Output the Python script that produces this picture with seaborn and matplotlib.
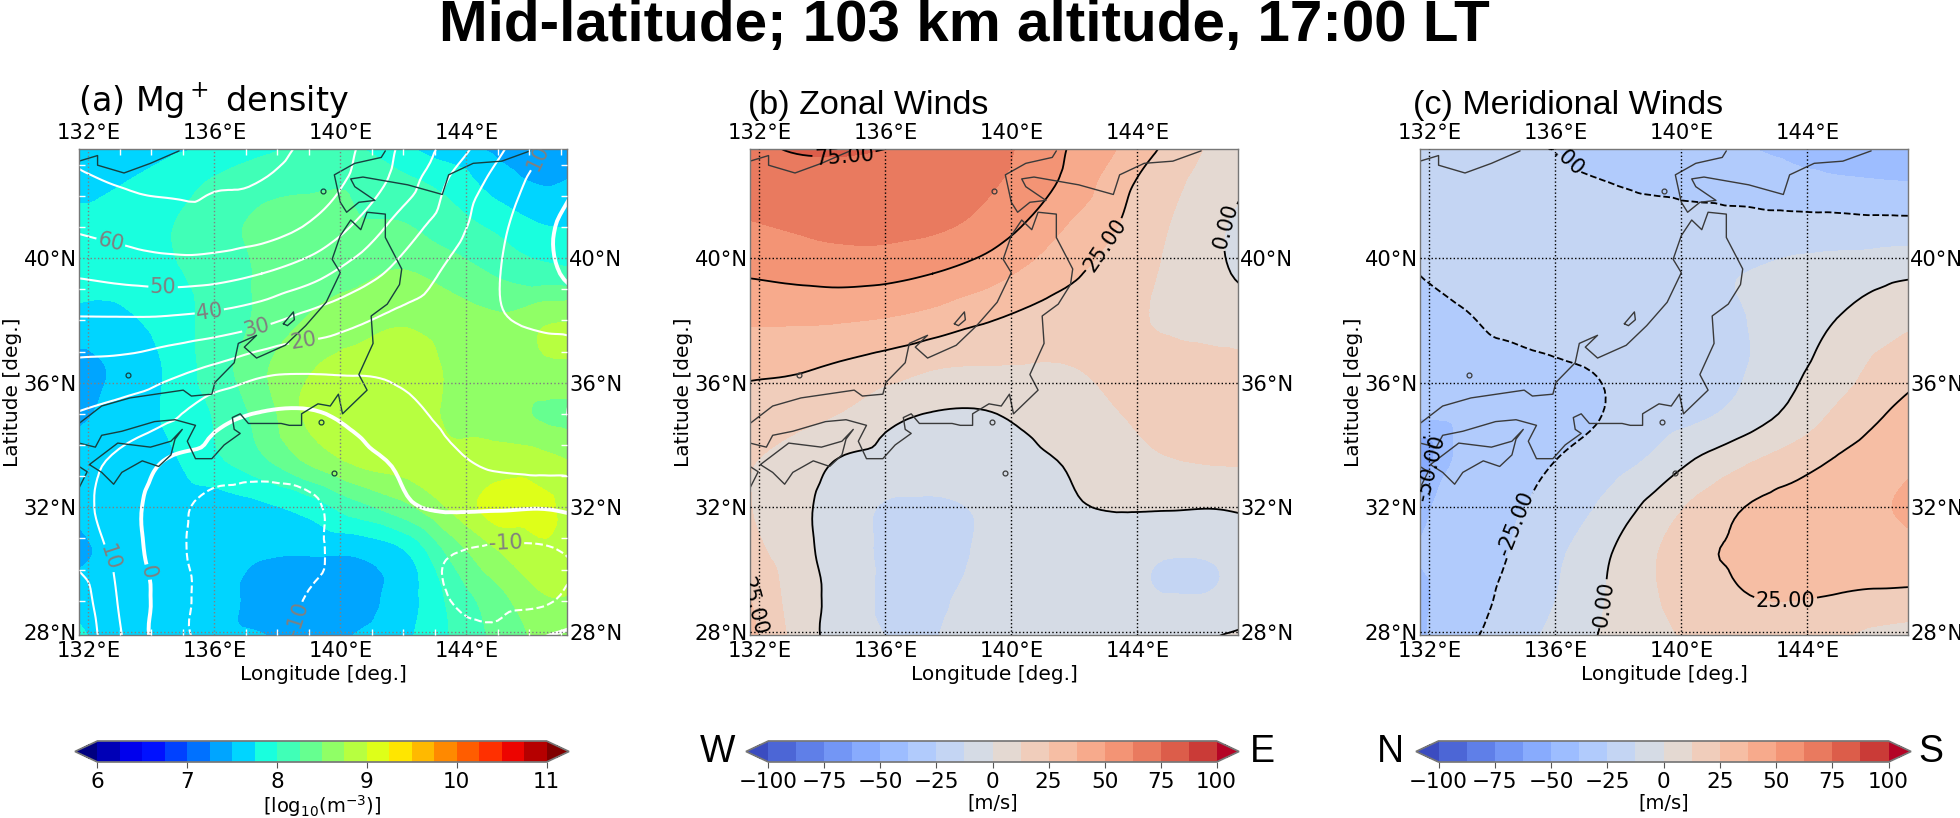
import matplotlib
matplotlib.use('Agg')
import matplotlib.pyplot as plt
import matplotlib.tri as mtri
from matplotlib.colors import ListedColormap, BoundaryNorm
import numpy as np
import seaborn as sns

# grid the fields were read on (rows go from north to south)
lons = [131.5, 133, 134.5, 136, 137.5, 139, 140.5, 142, 143.5, 145, 146.5, 147.5]
lats = [43.5, 42.5, 41, 39.5, 38, 36.5, 35, 33.5, 32, 30.5, 29, 27.5]

mg_density = [
    [7.55, 7.60, 7.70, 7.78, 7.95, 8.05, 8.02, 7.80, 7.60, 7.45, 7.40, 7.45],
    [7.65, 7.73, 7.85, 8.02, 8.15, 8.20, 8.20, 8.05, 7.90, 7.60, 7.47, 7.52],
    [7.82, 7.85, 7.98, 8.15, 8.30, 8.33, 8.28, 8.27, 8.10, 7.95, 7.76, 7.74],
    [7.82, 7.82, 7.95, 8.10, 8.28, 8.38, 8.45, 8.52, 8.40, 8.22, 8.10, 8.05],
    [7.68, 7.70, 7.85, 8.10, 8.30, 8.52, 8.62, 8.72, 8.62, 8.55, 8.72, 8.74],
    [7.40, 7.55, 7.78, 8.12, 8.45, 8.72, 8.85, 8.90, 8.72, 8.70, 8.72, 8.72],
    [7.42, 7.60, 7.78, 8.02, 8.35, 8.80, 8.92, 8.88, 8.72, 8.62, 8.46, 8.42],
    [7.62, 7.65, 7.70, 7.95, 8.20, 8.55, 8.80, 8.85, 8.78, 8.85, 8.82, 8.72],
    [7.55, 7.60, 7.60, 7.62, 7.70, 7.85, 8.15, 8.42, 8.78, 9.12, 9.05, 8.85],
    [7.40, 7.60, 7.62, 7.60, 7.52, 7.51, 7.52, 7.70, 8.30, 8.72, 8.95, 8.85],
    [7.70, 7.65, 7.60, 7.60, 7.42, 7.35, 7.42, 7.62, 8.05, 8.40, 8.72, 8.72],
    [7.85, 7.65, 7.60, 7.58, 7.55, 7.45, 7.55, 7.70, 8.00, 8.30, 8.55, 8.60],
]

zonal_wind = [
    [72, 75.5, 76, 75, 73, 68, 60, 48, 36, 22, 9, -3],
    [68, 71, 72, 71, 70, 65.5, 58, 45.5, 29, 17, 5.5, 0],
    [61, 63.5, 66, 66.5, 64.5, 59, 48.5, 35, 24, 12.5, 2, -4],
    [51, 53, 54.5, 53.5, 50, 44, 35, 26.5, 18, 10.5, 2.5, -3],
    [39, 39, 38.5, 36.5, 32.5, 26.5, 21.5, 17, 14.5, 11, 8, 7],
    [28, 27, 23.5, 19, 13.5, 12, 11.8, 12.5, 15, 16, 15.5, 15],
    [20, 17, 12.5, 3.5, -0.5, -1, 2.5, 7, 12.5, 15, 18, 21],
    [14, 8, -0.5, -4, -6.5, -6, -2.5, 1.5, 8, 12, 13.5, 14],
    [14, 5, -5.5, -13.5, -14, -11.5, -5.5, -1, 1, 1, 0.5, 2],
    [18, 7, -6, -14, -16, -11.5, -7.5, -6, -9.8, -12, -11.5, -9],
    [28, 9, -4, -14, -14, -9.5, -7.5, -7, -10, -12, -11, -7],
    [32, 11.5, -5, -12, -12.5, -8, -6, -5, -7, -7, 3, 7],
]

meridional_wind = [
    [-20, -21, -23, -25, -28, -31, -34, -37, -39, -40.5, -41, -41],
    [-19, -20, -21, -23, -25, -28.5, -31, -33, -35, -36.5, -37.5, -38],
    [-22, -18, -15, -13.5, -15, -16.5, -18, -19, -20, -20, -20.5, -20.5],
    [-25.5, -20, -16.5, -13.5, -15, -15, -14, -12.5, -9, -6.5, -3, -1.5],
    [-32, -27, -21, -18, -17, -16, -15, -12.8, -6.5, 0.5, 6.5, 11],
    [-33, -32, -30, -26.5, -24, -20, -17, -13, -3, 6, 17, 21],
    [-36, -34, -33, -31, -25, -20, -15, -8, 3, 15, 25, 31],
    [-62, -34, -29.5, -25, -19.5, -11, 1, 10.5, 18, 26.5, 33, 36.5],
    [-42, -32, -27, -21, -10.5, 3, 15.5, 25, 30.5, 33.5, 37, 40],
    [-38, -32, -25, -15, -2.5, 10.5, 22, 27.5, 29.5, 30.5, 32.5, 34],
    [-41, -31.5, -22, -12.5, -0.5, 10.5, 18, 24, 25, 23.5, 21.5, 20.5],
    [-42, -28, -18, -8, 1.5, 8, 13.5, 17, 16, 11, 3, -1],
]

# coastlines, lon / lat
coast_honshu = [
    (131.70, 34.69), (132.42, 35.25), (133.32, 35.51), (135.01, 35.76), (135.27, 35.57),
    (135.92, 35.63), (136.02, 36.01), (136.63, 36.64), (136.76, 37.26), (137.34, 37.52),
    (136.95, 37.14), (137.34, 36.79), (138.25, 37.20), (138.90, 37.83), (139.55, 38.58),
    (140.00, 39.53), (139.74, 39.96), (140.00, 40.72), (140.33, 41.22), (140.65, 40.91),
    (140.85, 41.47), (141.43, 41.41), (141.43, 40.66), (141.95, 39.65), (141.88, 39.15),
    (141.49, 38.52), (140.98, 38.14), (141.04, 37.26), (140.59, 36.26), (140.85, 35.76),
    (140.07, 35.00), (139.94, 35.63), (139.68, 35.25), (139.29, 35.32), (138.77, 35.00),
    (138.77, 34.63), (138.38, 34.63), (138.12, 34.69), (137.08, 34.69), (136.82, 35.00),
    (136.57, 34.88), (136.63, 34.50), (136.82, 34.37), (136.31, 34.00), (135.92, 33.56),
    (135.40, 33.56), (135.14, 34.12), (135.40, 34.63), (134.75, 34.81), (134.10, 34.75),
    (133.06, 34.44), (132.42, 34.31), (132.22, 33.93), (131.70, 34.06),
]
coast_shikoku = [
    (132.03, 33.37), (132.93, 34.06), (133.97, 33.93), (134.62, 34.12), (134.98, 34.50),
    (134.75, 34.19), (134.62, 33.68), (134.23, 33.31), (133.71, 33.49), (133.06, 33.12),
    (132.80, 32.74), (132.42, 33.12), (132.03, 33.37),
]
coast_kyushu = [(131.70, 33.31), (131.96, 33.14), (131.70, 32.62)]
coast_hokkaido = [
    (141.43, 43.44), (141.30, 43.23), (140.46, 43.04), (139.81, 42.67), (140.00, 41.79),
    (140.20, 41.47), (140.59, 41.79), (141.10, 41.85), (140.46, 42.29), (140.33, 42.54),
    (140.72, 42.60), (142.14, 42.35), (143.24, 42.04), (143.44, 42.67), (144.22, 43.04),
    (145.13, 43.11), (146.03, 43.44),
]
coast_north = [
    (131.70, 43.11), (132.29, 43.29), (132.29, 42.98), (133.13, 42.73), (133.97, 43.04),
    (134.88, 43.44),
]
coast_sado = [(138.19, 37.89), (138.51, 38.27), (138.54, 38.02), (138.32, 37.83), (138.19, 37.89)]
coasts = [coast_honshu, coast_shikoku, coast_kyushu, coast_hokkaido, coast_north, coast_sado]
small_islands = [(133.26, 36.26), (139.44, 42.16), (139.39, 34.75), (139.80, 33.10)]

lon_ticks = [132, 136, 140, 144]
lat_ticks = [28, 32, 36, 40]
jet_levels = np.arange(6, 11.01, 0.25)
wind_levels = np.arange(-100, 100.1, 12.5)
wind_lines = [-100, -75, -50, -25, 0, 25, 50, 75, 100]
white_lines = [-20, -10, 0, 10, 20, 30, 40, 50, 60, 70]

labels_a = [(132.68, 40.39), (134.37, 38.94), (135.86, 38.14), (137.35, 37.71), (138.87, 37.14),
            (132.87, 30.46), (133.85, 29.91), (145.25, 30.9), (138.2, 28.5), (146.34, 43.2)]
labels_b = [(134.7, 43.2), (143.0, 40.4), (146.37, 41.16), (131.87, 28.85)]
labels_c = [(135.66, 43.29), (134.68, 31.48), (132.1, 33.24), (137.54, 28.9), (143.31, 28.9)]

sns.set_theme(style='white')
plt.rcParams['font.family'] = ['DejaVu Sans']

W, H = 1960, 818
fig = plt.figure(figsize=(W / 100, H / 100), dpi=100)


def px_axes(left, right, top, bottom):
    return fig.add_axes([left / W, 1 - bottom / H, (right - left) / W, (bottom - top) / H])


# cubic refine so the contours are smooth instead of following the coarse grid
lon2d, lat2d = np.meshgrid(lons, lats)
triang = mtri.Triangulation(lon2d.ravel(), lat2d.ravel())
refiner = mtri.UniformTriRefiner(triang)


def refined(values):
    z = np.array(values, dtype=float).ravel()
    interp = mtri.CubicTriInterpolator(triang, z, kind='geom')
    return refiner.refine_field(z, triinterpolator=interp, subdiv=3)


def make_cmap(palette, under, over):
    cmap = ListedColormap(palette)
    cmap.set_under(under)
    cmap.set_over(over)
    return cmap


jet_cmap = make_cmap(sns.mpl_palette('jet', 20), '#000080', '#800000')
wind_cmap = make_cmap(sns.color_palette('coolwarm', 16), '#3b4cc0', '#b40426')


def draw_map(ax, grid_color, coast_color):
    for line in coasts:
        xs, ys = zip(*line)
        ax.plot(xs, ys, color=coast_color, lw=1.0)
    xs, ys = zip(*small_islands)
    ax.plot(xs, ys, 'o', ms=3.5, mfc='none', mec=coast_color, mew=0.9)
    ax.set_xlim(131.7, 147.2)
    ax.set_ylim(27.9, 43.5)
    ax.set_xticks(lon_ticks)
    ax.set_yticks(lat_ticks)
    ax.set_xticklabels([f'{v}°E' for v in lon_ticks])
    ax.set_yticklabels([f'{v}°N' for v in lat_ticks])
    ax.tick_params(axis='both', length=0, labelsize=15.2, colors='black',
                   top=True, labeltop=True, right=True, labelright=True)
    ax.tick_params(axis='x', pad=4)
    ax.tick_params(axis='y', pad=1.5)
    ax.grid(True, color=grid_color, ls=':', lw=1.0)
    ax.set_axisbelow(False)
    ax.set_xlabel('Longitude [deg.]', fontsize=14.5, labelpad=3.5, color='black')
    ax.set_ylabel('Latitude [deg.]', fontsize=14.5, labelpad=1, color='black')
    for s in ax.spines.values():
        s.set_visible(True)
        s.set_color('#777777')
        s.set_linewidth(1.0)


# left and right here are the tips of the extend triangles
def add_colorbar(cf, left, right, ticks, label):
    cax = px_axes(left, right, 741, 762)
    cb = fig.colorbar(cf, cax=cax, orientation='horizontal', extend='both', ticks=ticks)
    cb.ax.minorticks_off()
    cb.ax.tick_params(labelsize=15.5, length=4, width=0.8, pad=3, color='#555555', labelcolor='black')
    cb.set_label(label, fontsize=14, labelpad=1, color='black')
    cb.outline.set_edgecolor('#777777')
    return cb


# (a) density with white wind contours on top
ax1 = px_axes(79, 567, 149, 635)
tx, tz = refined(mg_density)
cf1 = ax1.tricontourf(tx, tz, levels=jet_levels, cmap=jet_cmap,
                      norm=BoundaryNorm(jet_levels, 20), extend='both')
tx, tz = refined(zonal_wind)
lw = [2.8 if v == 0 else 1.5 for v in white_lines]
cs1 = ax1.tricontour(tx, tz, levels=white_lines, colors='white', linewidths=lw)
ax1.clabel(cs1, fmt='%d', fontsize=15, colors='gray', manual=labels_a, inline_spacing=1)
draw_map(ax1, '#808080', '#17403f')
ax1.set_xticks(np.arange(132, 148), minor=True)
ax1.set_yticks(np.arange(28, 44), minor=True)
ax1.tick_params(which='minor', direction='in', length=4, width=1, color='white',
                top=True, bottom=True, left=True, right=True)
ax1.text(-0.003, 1.057, '(a) Mg$^+$ density', transform=ax1.transAxes, fontsize=24, color='black', va='bottom')

# (b) zonal winds
ax2 = px_axes(750, 1238, 149, 635)
tx, tz = refined(zonal_wind)
cf2 = ax2.tricontourf(tx, tz, levels=wind_levels, cmap=wind_cmap,
                      norm=BoundaryNorm(wind_levels, 16), extend='both')
cs2 = ax2.tricontour(tx, tz, levels=wind_lines, colors='black', linewidths=1.3)
ax2.clabel(cs2, fmt='%.2f', fontsize=15, colors='black', manual=labels_b, inline_spacing=1)
draw_map(ax2, 'black', '#3a3a3a')
ax2.text(-0.005, 1.057, '(b) Zonal Winds', transform=ax2.transAxes, fontsize=24.5, color='black',
         va='bottom', family='Liberation Sans')

# (c) meridional winds
ax3 = px_axes(1420, 1908, 149, 635)
tx, tz = refined(meridional_wind)
cf3 = ax3.tricontourf(tx, tz, levels=wind_levels, cmap=wind_cmap,
                      norm=BoundaryNorm(wind_levels, 16), extend='both')
cs3 = ax3.tricontour(tx, tz, levels=wind_lines, colors='black', linewidths=1.3)
ax3.clabel(cs3, fmt='%.2f', fontsize=15, colors='black', manual=labels_c, inline_spacing=1)
draw_map(ax3, 'black', '#3a3a3a')
ax3.text(-0.015, 1.057, '(c) Meridional Winds', transform=ax3.transAxes, fontsize=24.5, color='black',
         va='bottom', family='Liberation Sans')

# colorbars
add_colorbar(cf1, 75, 569, [6, 7, 8, 9, 10, 11], r'[log$_{10}$(m$^{-3}$)]')
wind_ticks = [-100, -75, -50, -25, 0, 25, 50, 75, 100]
add_colorbar(cf2, 746, 1239, wind_ticks, '[m/s]')
add_colorbar(cf3, 1416, 1911, wind_ticks, '[m/s]')

for s, x in [('W', 718), ('E', 1262), ('N', 1390), ('S', 1931)]:
    fig.text(x / W, 1 - 752 / H, s, fontsize=27, color='black', ha='center', va='center',
             family='Liberation Sans')

fig.text(964 / W, 1 - 26 / H, 'Mid-latitude; 103 km altitude, 17:00 LT', fontsize=42,
         fontweight='bold', color='black', ha='center', va='center', family='Liberation Sans')

plt.savefig('out.png', dpi=100)
